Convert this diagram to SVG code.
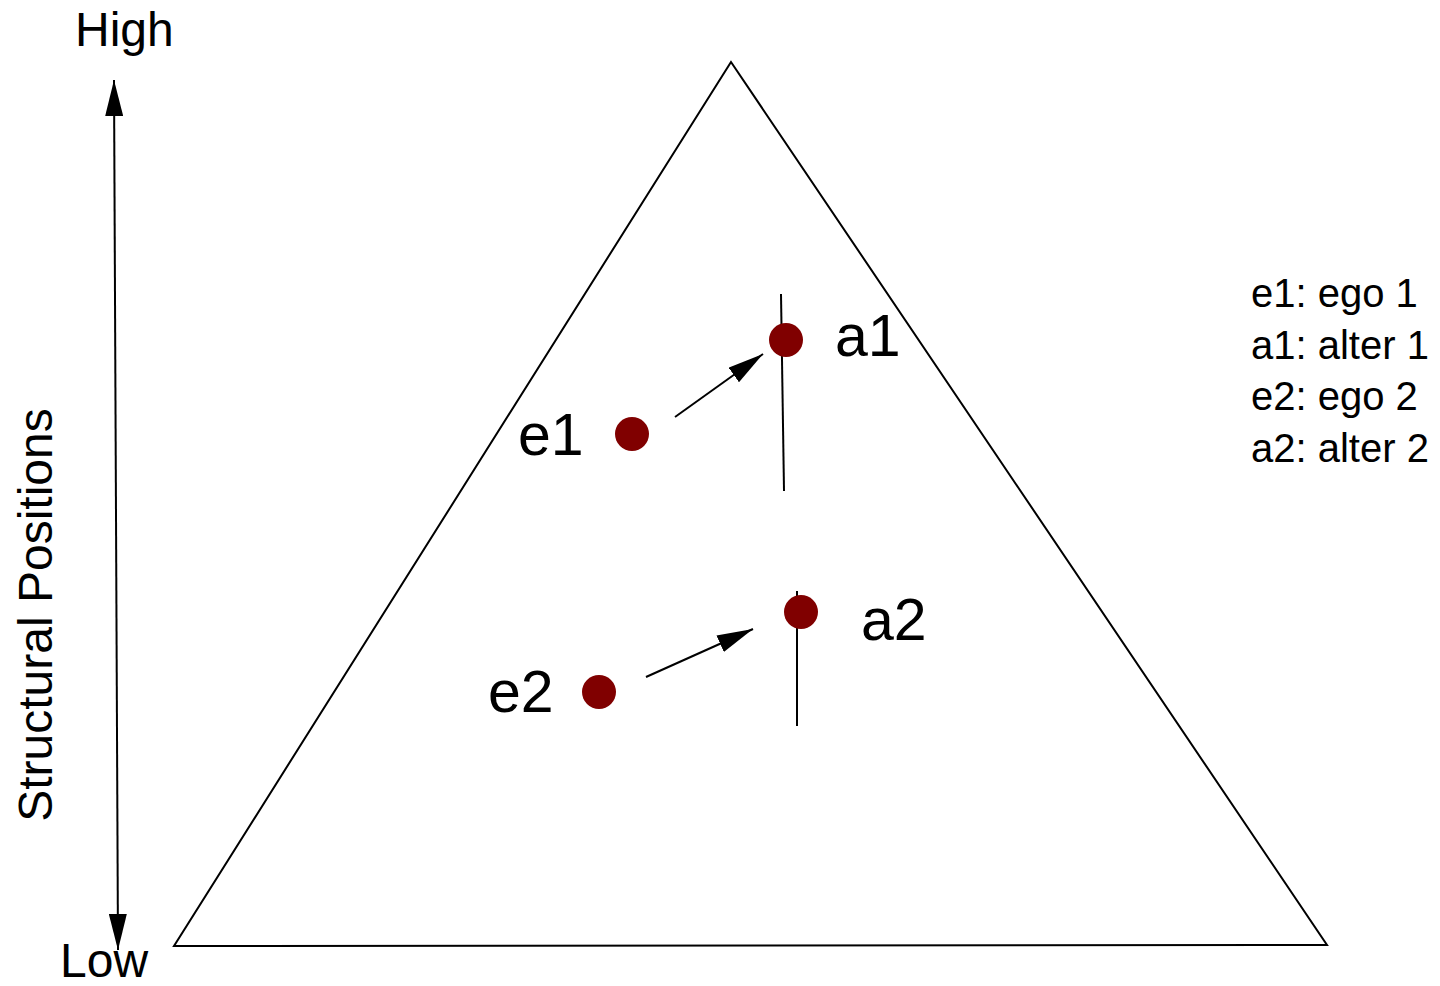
<svg xmlns="http://www.w3.org/2000/svg" width="1440" height="986" viewBox="0 0 1440 986">
<style>
text{font-family:"Liberation Sans",Arial,sans-serif;fill:#000}
.big{font-size:59px}
.ax{font-size:48px}
.leg{font-size:40px}
.ln{stroke:#000;stroke-width:2;fill:none}
.dot{fill:#800000}
</style>
<defs>
<marker id="ah" viewBox="0 0 36 18" refX="36" refY="9" markerWidth="36" markerHeight="18" markerUnits="userSpaceOnUse" orient="auto">
<path d="M0,0 L36,9 L0,18 Z" fill="#000"/>
</marker>
</defs>
<rect width="1440" height="986" fill="#fff"/>
<g id="triangle">
<polygon points="731,62 174,946 1327,945" class="ln"/>
</g>
<g id="axis">
<line x1="116" y1="515" x2="114" y2="80" class="ln" marker-end="url(#ah)"/>
<line x1="116" y1="515" x2="118" y2="950" class="ln" marker-end="url(#ah)"/>
<text class="ax" x="75" y="46">High</text>
<text class="ax" x="60" y="977">Low</text>
<text class="ax" transform="translate(52,615) rotate(-90)" text-anchor="middle">Structural Positions</text>
</g>
<g id="e1"><circle class="dot" cx="632" cy="434" r="17"/><text class="big" x="518" y="455">e1</text></g>
<g id="a1"><line x1="781" y1="294" x2="784" y2="491" class="ln"/><circle class="dot" cx="786" cy="340" r="17"/><text class="big" x="835" y="356">a1</text></g>
<g id="e2"><circle class="dot" cx="599" cy="692" r="17"/><text class="big" x="488" y="712">e2</text></g>
<g id="a2"><line x1="797" y1="591" x2="797" y2="726" class="ln"/><circle class="dot" cx="801" cy="612" r="17"/><text class="big" x="861" y="640">a2</text></g>
<g id="connectors">
<line x1="675" y1="417" x2="763" y2="354" class="ln" marker-end="url(#ah)"/>
<line x1="646" y1="677" x2="753" y2="629" class="ln" marker-end="url(#ah)"/>
</g>
<g id="legend">
<text class="leg" x="1251" y="307">e1: ego 1</text>
<text class="leg" x="1251" y="359">a1: alter 1</text>
<text class="leg" x="1251" y="410">e2: ego 2</text>
<text class="leg" x="1251" y="462">a2: alter 2</text>
</g>
</svg>
